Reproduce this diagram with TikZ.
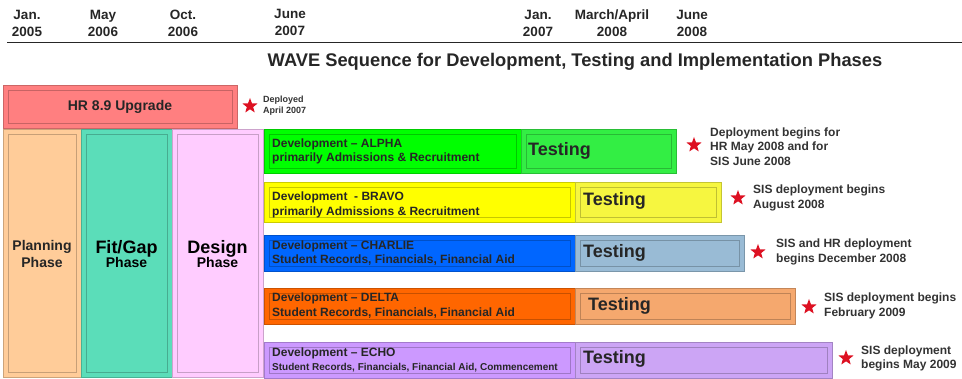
\documentclass[tikz,border=0pt]{standalone}
\usepackage{fontspec}
\setmainfont{Liberation Sans}
\usetikzlibrary{shapes.geometric}
\definecolor{hrc}{HTML}{FF7F80}
\definecolor{planc}{HTML}{FFCC99}
\definecolor{fitc}{HTML}{5BDDB9}
\definecolor{desc}{HTML}{FFCCFF}
\definecolor{alphad}{HTML}{00FF00}
\definecolor{alphat}{HTML}{33EE44}
\definecolor{bravod}{HTML}{FFFF00}
\definecolor{bravot}{HTML}{F6F640}
\definecolor{charlied}{HTML}{0066FF}
\definecolor{charliet}{HTML}{99BBD5}
\definecolor{deltad}{HTML}{FF6600}
\definecolor{deltat}{HTML}{F5A86E}
\definecolor{echod}{HTML}{CC99FF}
\definecolor{echot}{HTML}{CCA5F5}
\definecolor{starc}{HTML}{DD1122}
\tikzset{
  wbox/.style={draw=#1!80!black, fill=#1, line width=0.6pt, rectangle, inner sep=0pt, outer sep=0pt, anchor=north west},
  inbox/.style={draw=#1!78!black, line width=0.5pt},
  datelbl/.style={font=\fontsize{13.5}{17}\selectfont\bfseries, align=center, text=black!85},
  devtext/.style={font=\fontsize{12}{14.5}\selectfont\bfseries, align=left, anchor=west, text=black!85, inner sep=0pt},
  testtext/.style={font=\fontsize{18}{20}\selectfont\bfseries, anchor=west, text=black!85, inner sep=0pt},
  deptext/.style={font=\fontsize{12}{14.5}\selectfont\bfseries, align=left, anchor=west, text=black!80, inner sep=0pt},
  redstar/.style={star, star points=5, star point ratio=2.4, fill=starc, draw=none, minimum size=16pt, inner sep=0pt},
  phasesmall/.style={font=\fontsize{14}{17}\selectfont\bfseries, text=black!85},
}
\newcommand\wavebox[6]{%
  \node[wbox=#6, minimum width={#4-#2}, minimum height={#5-#3}] (#1) at (#2,#3) {};
  \draw[inbox=#6] ([shift={(5,5)}]#1.north west) rectangle ([shift={(-5,-5)}]#1.south east);
}
\begin{document}
\begin{tikzpicture}[x=1pt,y=-1pt]
\useasboundingbox (0,0) rectangle (962,379);
% header
\node[datelbl] (d1) at (27,23.5) {Jan.\\2005};
\node[datelbl] (d2) at (103,23.5) {May\\2006};
\node[datelbl] (d3) at (183,23.5) {Oct.\\2006};
\node[datelbl] (d4) at (290,22.5) {June\\2007};
\node[datelbl] (d5) at (538,23.5) {Jan.\\2007};
\node[datelbl] (d6) at (612,23.5) {March/April\\2008};
\node[datelbl] (d7) at (692,23.5) {June\\2008};
\coordinate (hl) at (7,42.5);
\coordinate (hr) at (962,42.5);
\draw[line width=1.6pt, black!85] (hl) -- (hr);
\node[font=\fontsize{18.3}{20}\selectfont\bfseries, text=black!85] (title) at (575,62) {WAVE Sequence for Development, Testing and Implementation Phases};
% HR upgrade
\wavebox{hr}{3}{85}{237}{128}{hrc}
\node[font=\fontsize{14}{16}\selectfont\bfseries, text=black!85] (hrt) at (hr.center) {HR 8.9 Upgrade};
\node[redstar] (s0) at (250,106) {};
\node[font=\fontsize{9}{11}\selectfont\bfseries, align=left, anchor=west, inner sep=0pt, text=black!80] (dep0) at (263,105.5) {Deployed\\April 2007};
% phases
\wavebox{plan}{3}{129}{81}{377}{planc}
\wavebox{fit}{81}{129}{172}{377}{fitc}
\wavebox{des}{172}{129}{263}{377}{desc}
\node[phasesmall, align=center] (plant) at (42,253.5) {Planning\\Phase};
\node[align=center] (fitt) at (126.5,254) {{\fontsize{18}{20}\selectfont\bfseries Fit/Gap}\\[-1pt]{\fontsize{14}{16}\selectfont\bfseries Phase}};
\node[align=center] (dest) at (217.5,254) {{\fontsize{18}{20}\selectfont\bfseries Design}\\[-1pt]{\fontsize{14}{16}\selectfont\bfseries Phase}};
% ALPHA
\wavebox{ad}{264}{129}{521}{173}{alphad}
\wavebox{at}{521}{129}{676}{173}{alphat}
\node[devtext] (adt) at (272,151.5) {Development -- ALPHA\\primarily Admissions \& Recruitment};
\node[testtext] (att) at (528,151) {Testing};
\node[redstar] (s1) at (694,145) {};
\node[deptext] (dp1) at (710,146.5) {Deployment begins for\\HR May 2008 and for\\SIS June 2008};
% BRAVO
\wavebox{bd}{264}{182}{575}{222}{bravod}
\wavebox{bt}{575}{182}{721}{222}{bravot}
\node[devtext] (bdt) at (272,205) {Development\ \ - BRAVO\\primarily Admissions \& Recruitment};
\node[testtext] (btt) at (583,201) {Testing};
\node[redstar] (s2) at (738,198) {};
\node[deptext] (dp2) at (753,198) {SIS deployment begins\\August 2008};
% CHARLIE
\wavebox{cd}{264}{235}{575}{271}{charlied}
\wavebox{ct}{575}{235}{744}{271}{charliet}
\node[devtext] (cdt) at (272,253) {Development -- CHARLIE\\Student Records, Financials, Financial Aid};
\node[testtext] (ctt) at (583,253) {Testing};
\node[redstar] (s3) at (758,252) {};
\node[deptext] (dp3) at (776,252) {SIS and HR deployment\\begins December 2008};
% DELTA
\wavebox{dd}{264}{288}{575}{324}{deltad}
\wavebox{dt}{575}{288}{795}{324}{deltat}
\node[devtext] (ddt) at (272,305.5) {Development -- DELTA\\Student Records, Financials, Financial Aid};
\node[testtext] (dtt) at (588,306) {Testing};
\node[redstar] (s4) at (809,307) {};
\node[deptext] (dp4) at (824,306) {SIS deployment begins\\February 2009};
% ECHO
\wavebox{ed}{264}{342}{575}{378}{echod}
\wavebox{et}{575}{342}{832}{378}{echot}
\node[devtext] (edt) at (272,360) {Development -- ECHO\\{\fontsize{10}{12}\selectfont Student Records, Financials, Financial Aid, Commencement}};
\node[testtext] (ett) at (583,359) {Testing};
\node[redstar] (s5) at (846,358) {};
\node[deptext] (dp5) at (861,358.5) {SIS deployment\\begins May 2009};
\end{tikzpicture}
\end{document}
